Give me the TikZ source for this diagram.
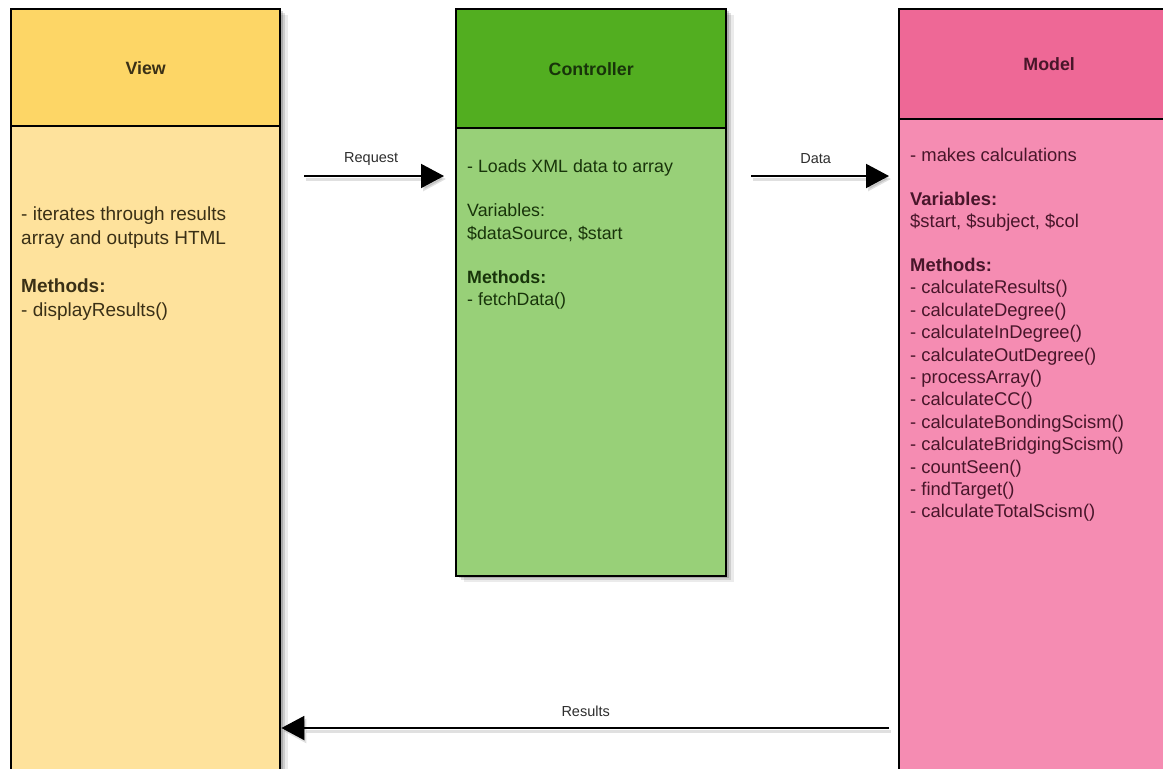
\documentclass[tikz,border=0pt]{standalone}
\usepackage{fontspec}
\setmainfont{Liberation Sans}
\usetikzlibrary{shadows,arrows.meta}

% fills of the three class boxes
\definecolor{viewhead}{RGB}{253,214,102}
\definecolor{viewbody}{RGB}{254,226,156}
\definecolor{ctrlhead}{RGB}{82,174,32}
\definecolor{ctrlbody}{RGB}{152,208,120}
\definecolor{modelhead}{RGB}{238,104,150}
\definecolor{modelbody}{RGB}{245,140,178}
% text inks
\definecolor{viewink}{RGB}{58,48,22}
\definecolor{ctrlink}{RGB}{24,52,10}
\definecolor{modelink}{RGB}{72,22,42}
\definecolor{labelink}{RGB}{45,45,45}

\tikzset{
  softshadow/.style={
    general shadow={fill=black, opacity=0.08, shadow xshift=8pt, shadow yshift=-6pt},
    general shadow={fill=black, opacity=0.12, shadow xshift=5pt, shadow yshift=-4pt},
    general shadow={fill=black, opacity=0.16, shadow xshift=3pt, shadow yshift=-2pt}},
  classbody/.style={draw=black, line width=2.4pt, rectangle, inner sep=0pt,
    anchor=north west, softshadow},
  classhead/.style={draw=black, line width=2.4pt, rectangle, inner sep=0pt,
    anchor=north west, font=\fontsize{17.8}{20}\selectfont\bfseries},
  bodytext/.style={anchor=north west, align=left, inner sep=0pt},
  flow/.style={line width=2pt, -{Triangle[length=23pt,width=24pt]},
    preaction={draw=black, opacity=0.12, line width=3pt,
      transform canvas={shift={(2pt,-3pt)}}}},
  flowlabel/.style={font=\fontsize{14.5}{16}\selectfont, text=labelink,
    inner sep=0pt, yshift=17pt}
}

\begin{document}
\begin{tikzpicture}[x=1pt,y=-1pt]
  \useasboundingbox (0,0) rectangle (1163,769);
  \clip (0,0) rectangle (1163,769);
  \fill[white] (0,0) rectangle (1163,769);

  % class bodies
  \node[classbody, fill=viewbody, minimum width=269pt, minimum height=820pt]
    (view) at (10,8) {};
  \node[classbody, fill=ctrlbody, minimum width=270pt, minimum height=567pt]
    (ctrl) at (455,8) {};
  \node[classbody, fill=modelbody, minimum width=300pt, minimum height=820pt]
    (model) at (898,8) {};

  % class headers
  \node[classhead, fill=viewhead, text=viewink, minimum width=269pt,
    minimum height=117pt] (viewtitle) at (10,8) {View};
  \node[classhead, fill=ctrlhead, text=ctrlink, minimum width=270pt,
    minimum height=119pt] (ctrltitle) at (455,8) {Controller};
  \node[classhead, fill=modelhead, text=modelink, minimum width=300pt,
    minimum height=110pt] (modeltitle) at (898,8) {Model};

  % class contents
  \node[bodytext, text=viewink, font=\fontsize{19}{23.4}\selectfont]
    (viewtext) at (21,207) {%
    - iterates through results\\
    array and outputs HTML\\[25pt]
    \textbf{Methods:}\\
    - displayResults()};

  \node[bodytext, text=ctrlink, font=\fontsize{17.8}{22.2}\selectfont]
    (ctrltext) at (467,159.5) {%
    - Loads XML data to array\\[22pt]
    Variables:\\
    \$dataSource, \$start\\[22pt]
    \textbf{Methods:}\\
    - fetchData()};

  \node[bodytext, text=modelink, font=\fontsize{18.4}{22.4}\selectfont]
    (modeltext) at (910,147.5) {%
    - makes calculations\\[21.6pt]
    \textbf{Variables:}\\
    \$start, \$subject, \$col\\[21.6pt]
    \textbf{Methods:}\\
    - calculateResults()\\
    - calculateDegree()\\
    - calculateInDegree()\\
    - calculateOutDegree()\\
    - processArray()\\
    - calculateCC()\\
    - calculateBondingScism()\\
    - calculateBridgingScism()\\
    - countSeen()\\
    - findTarget()\\
    - calculateTotalScism()};

  % message flow between the classes
  \coordinate (upper) at (0,176);
  \coordinate (lower) at (0,728);

  \draw[flow, shorten <=23pt, shorten >=11pt]
    (view.east |- upper) -- node[flowlabel, xshift=3pt] {Request} (ctrl.west |- upper);
  \draw[flow, shorten <=24pt, shorten >=9pt]
    (ctrl.east |- upper) -- node[flowlabel, xshift=3pt] {Data} (model.west |- upper);
  \draw[flow, shorten <=9pt, shorten >=0pt]
    (model.west |- lower) -- node[flowlabel, xshift=-4pt] {Results} (view.east |- lower);
\end{tikzpicture}
\end{document}
